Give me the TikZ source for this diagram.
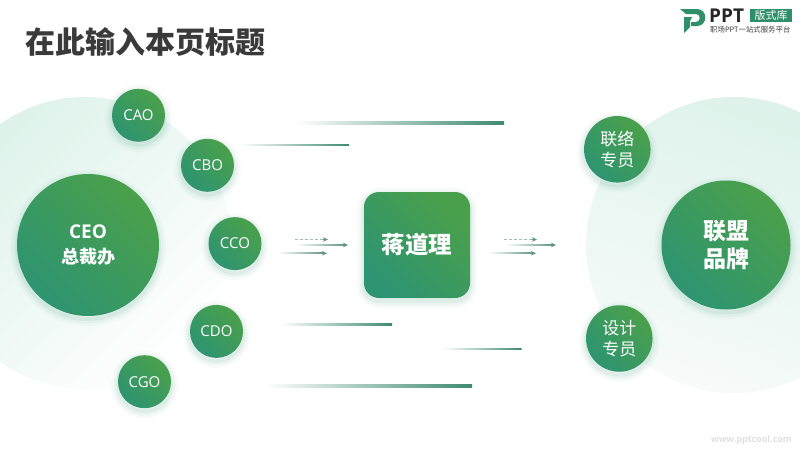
\documentclass[tikz,border=0pt]{standalone}
\usepackage{fontspec}
\setmainfont{Noto Sans CJK SC}
\newfontfamily\latinf{Open Sans}
\usetikzlibrary{arrows.meta,calc}
\definecolor{gtop}{HTML}{4AA04A}
\definecolor{gbot}{HTML}{2E9472}
\definecolor{logog}{HTML}{2E8F6A}
\definecolor{ink}{HTML}{3A3A3A}
\definecolor{lineg}{HTML}{3F8A70}
\definecolor{arrg}{HTML}{5F9585}
\definecolor{palea}{HTML}{DDF2EA}
\definecolor{paleb}{HTML}{F7FBFA}
\tikzset{
  softsh/.style={
    preaction={draw=gbot,opacity=.03,line width=14pt,transform canvas={yshift=-3pt}},
    preaction={draw=gbot,opacity=.05,line width=9pt,transform canvas={yshift=-3pt}},
    preaction={draw=gbot,opacity=.08,line width=4pt,transform canvas={yshift=-3pt}}},
  grad/.style={draw=none,top color=gtop,bottom color=gbot,shading angle=-45,text=white,softsh},
  dot/.style={circle,grad,align=center,inner sep=0pt,font=\fontsize{15}{18}\selectfont},
  bgdisc/.style={circle,draw=none,inner sep=0pt},
  fl/.style={draw=none,left color=white,right color=lineg},
  shaft/.style={draw=none,left color=white,right color=arrg},
  tipa/.style={-{Stealth[length=5pt,width=4.5pt]},color=arrg,line width=.9pt},
}
\newcommand{\farrow}[3]{%
  \shade[shaft] ($(#1)+(0,-#3)$) rectangle ($(#2)+(-3,#3)$);
  \draw[tipa] ($(#2)+(-5,0)$) -- (#2);}
\begin{document}
\begin{tikzpicture}[x=1pt,y=-1pt]
\useasboundingbox (0,0) rectangle (800,450);
\fill[white] (0,0) rectangle (800,450);
\begin{scope}
\clip (0,0) rectangle (800,450);
\node[bgdisc,minimum size=292pt,top color=palea,bottom color=white,shading angle=45] (bgl) at (85,243) {};
\node[bgdisc,minimum size=296pt,top color=palea,bottom color=paleb,shading angle=-20] (bgr) at (734,245) {};
\end{scope}
% title
\node[anchor=west,text=ink,font=\fontsize{30}{32}\selectfont\bfseries] (title) at (22,42) {在此输入本页标题};
% logo
\fill[logog] (680,9) -- (697,9) .. controls (708,9) and (708,26) .. (697,26) -- (691,26) -- (691,22) -- (696,22) .. controls (701,22) and (701,14) .. (696,14) -- (686,14) -- cycle;
\fill[logog] (684,17) -- (692,17) -- (690,21) -- (690,27) -- (684,33) -- cycle;
\node[anchor=west,inner sep=0pt,text=black!85,font=\latinf\fontsize{19}{19}\selectfont\bfseries] (ppt) at (709,16) {PPT};
\node[fill=logog,text=white,inner sep=0pt,minimum width=42pt,minimum height=13pt,font=\fontsize{11}{11}\selectfont] (ks) at (771,15.5) {版式库};
\node[anchor=west,inner sep=0pt,text=black!75,font=\fontsize{7.4}{8}\selectfont] (sub) at (710,30) {职场PPT一站式服务平台};
\node[anchor=east,inner sep=0pt,text=black!12,font=\latinf\fontsize{9}{9}\selectfont\bfseries] (url) at (792,440) {www.pptcool.com};
% fading lines
\shade[fl] (296,121) rectangle (504,124);
\shade[fl] (240,144) rectangle (349,145);
\shade[fl] (280,323) rectangle (392,325);
\shade[fl] (442,348.3) rectangle (521.5,349.7);
\shade[fl] (265,384) rectangle (472,387);
% nodes
\node[dot,minimum size=142pt] (ceo) at (88,245) {\latinf\bfseries\fontsize{19}{24}\selectfont CEO\\[7pt]\normalfont\bfseries\fontsize{18}{24}\selectfont 总裁办};
\node[dot,minimum size=53pt] (cao) at (138.5,115.3) {\latinf CAO};
\node[dot,minimum size=53pt] (cbo) at (207.5,165.3) {\latinf CBO};
\node[dot,minimum size=53pt] (cco) at (235,243.6) {\latinf CCO};
\node[dot,minimum size=53pt] (cdo) at (216.5,331.4) {\latinf CDO};
\node[dot,minimum size=53pt] (cgo) at (144.5,381.7) {\latinf CGO};
\node[rectangle,rounded corners=15pt,grad,minimum size=106pt,font=\fontsize{23.5}{26}\selectfont\bfseries] (jiang) at (417,245) {蒋道理};
\node[dot,minimum size=129pt,font=\fontsize{23}{28}\selectfont\bfseries] (lm) at (726,245) {联盟\\品牌};
\node[dot,minimum size=66.5pt,font=\fontsize{17}{21}\selectfont] (lx) at (617.3,149.3) {联络\\专员};
\node[dot,minimum size=66.5pt,font=\fontsize{17}{21}\selectfont] (sj) at (619.3,338.5) {设计\\专员};
% arrows
\coordinate (a1s) at (295,239.5); \coordinate (a1e) at (328,239.5);
\coordinate (a2s) at (296,245); \coordinate (a2e) at (348,245);
\coordinate (a3s) at (278,253.3); \coordinate (a3e) at (327,253.3);
\coordinate (b1s) at (504,239.5); \coordinate (b1e) at (537,239.5);
\coordinate (b2s) at (505,245); \coordinate (b2e) at (556,245);
\coordinate (b3s) at (488,253.3); \coordinate (b3e) at (536,253.3);
\draw[densely dashed,color=arrg!60,line width=.7pt] (a1s) -- ($(a1e)+(-3,0)$);
\draw[tipa] ($(a1e)+(-5,0)$) -- (a1e);
\farrow{a2s}{a2e}{.6}
\farrow{a3s}{a3e}{.6}
\draw[densely dashed,color=arrg!60,line width=.7pt] (b1s) -- ($(b1e)+(-3,0)$);
\draw[tipa] ($(b1e)+(-5,0)$) -- (b1e);
\farrow{b2s}{b2e}{.6}
\farrow{b3s}{b3e}{.6}
\end{tikzpicture}
\end{document}
